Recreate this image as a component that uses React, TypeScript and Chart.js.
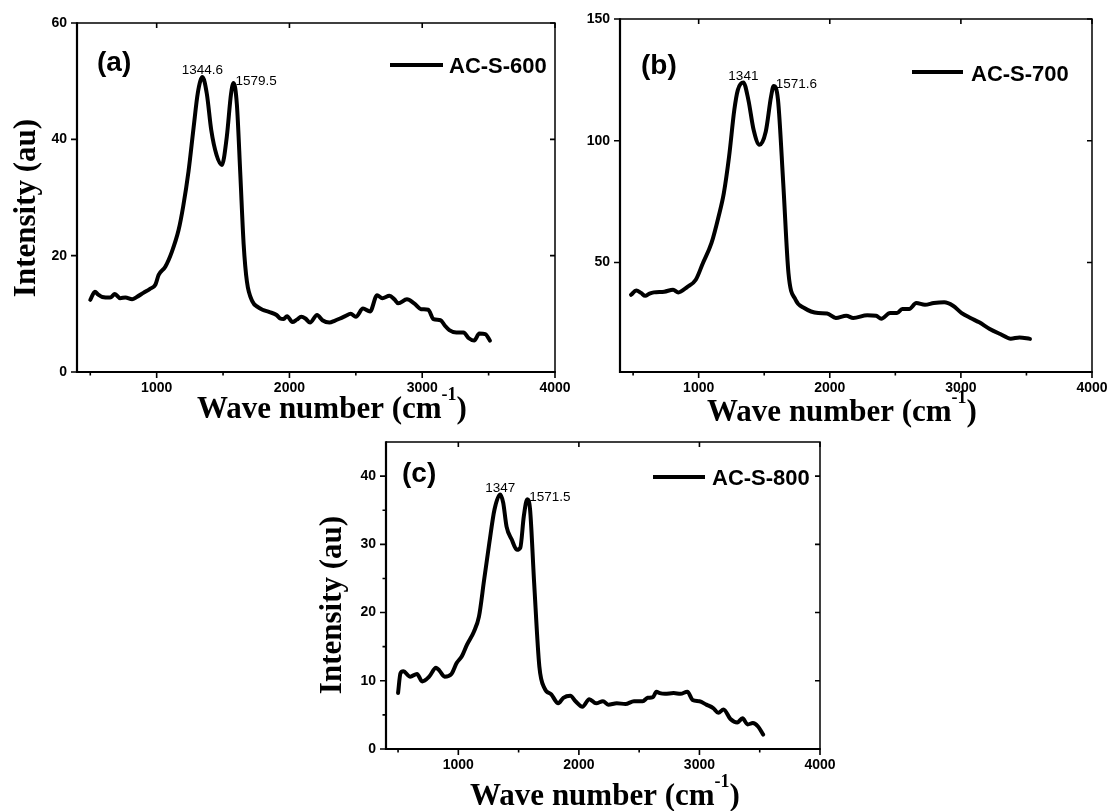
import React, { useEffect, useRef } from 'react';
import { Chart, registerables } from 'chart.js';
Chart.register(...registerables);

// ---------- data ----------
const wavenumbersA = [500, 535, 560, 590, 650, 685, 725, 765, 815, 850, 900, 950, 990, 1015, 1065, 1115, 1165, 1200, 1240, 1278, 1310, 1345, 1378, 1411, 1451, 1491, 1528, 1560, 1579, 1604, 1630, 1655, 1680, 1722, 1760, 1797, 1850, 1903, 1930, 1956, 1982, 2022, 2055, 2089, 2120, 2155, 2208, 2248, 2301, 2340, 2381, 2420, 2461, 2500, 2554, 2607, 2660, 2700, 2753, 2790, 2819, 2885, 2939, 2992, 3045, 3085, 3138, 3170, 3204, 3257, 3311, 3351, 3391, 3430, 3475, 3510];
const intensityA = [12.4, 13.8, 13.3, 12.9, 12.8, 13.4, 12.7, 12.8, 12.5, 12.9, 13.6, 14.3, 15.0, 16.7, 18.1, 20.7, 24.4, 28.5, 34.5, 42.0, 48.0, 50.7, 47.8, 41.6, 37.3, 35.6, 40.4, 47.8, 49.7, 46.0, 34.0, 22.0, 15.5, 12.1, 11.2, 10.7, 10.3, 9.8, 9.2, 9.1, 9.6, 8.6, 9.0, 9.5, 9.2, 8.5, 9.8, 8.9, 8.5, 8.8, 9.2, 9.6, 10.0, 9.5, 10.9, 10.4, 13.2, 12.7, 13.1, 12.5, 11.8, 12.5, 11.8, 10.8, 10.7, 9.1, 8.9, 8.0, 7.2, 6.8, 6.8, 5.8, 5.4, 6.6, 6.5, 5.4];

const wavenumbersB = [484, 524, 560, 592, 625, 658, 738, 805, 845, 912, 978, 1032, 1098, 1152, 1192, 1232, 1272, 1299, 1341, 1379, 1419, 1464, 1512, 1552, 1572, 1605, 1645, 1685, 1739, 1805, 1912, 1979, 2046, 2126, 2179, 2286, 2353, 2393, 2460, 2513, 2553, 2606, 2660, 2726, 2793, 2873, 2940, 3006, 3073, 3140, 3220, 3300, 3380, 3447, 3527];
const intensityB = [36.7, 38.5, 37.5, 36.3, 37.2, 37.7, 38.0, 38.8, 37.7, 39.9, 42.9, 49.7, 58.0, 68.9, 78.5, 93.5, 112.7, 120.9, 123.9, 116.8, 104.5, 98.3, 103.8, 118.1, 122.5, 116.8, 82.6, 45.6, 34.7, 31.3, 29.2, 29.0, 27.2, 28.1, 27.2, 28.3, 28.1, 26.9, 29.2, 29.2, 30.9, 30.9, 33.3, 32.6, 33.3, 33.6, 32.2, 29.2, 27.2, 25.4, 22.7, 20.6, 18.7, 19.2, 18.6];

const wavenumbersC = [500, 520, 543, 601, 657, 700, 758, 815, 843, 886, 943, 986, 1029, 1072, 1129, 1171, 1214, 1257, 1300, 1347, 1372, 1400, 1443, 1486, 1514, 1543, 1572, 1595, 1629, 1672, 1715, 1771, 1829, 1871, 1929, 1972, 2029, 2086, 2143, 2200, 2243, 2314, 2386, 2457, 2529, 2571, 2614, 2643, 2671, 2714, 2786, 2843, 2900, 2943, 3000, 3057, 3114, 3157, 3200, 3257, 3314, 3357, 3400, 3443, 3486, 3529];
const intensityC = [8.2, 11.1, 11.4, 10.6, 11.0, 9.9, 10.6, 11.9, 11.5, 10.6, 11.0, 12.6, 13.6, 15.3, 17.2, 19.4, 24.8, 30.2, 35.1, 37.3, 36.1, 32.6, 30.7, 29.2, 29.5, 34.1, 36.6, 35.1, 24.3, 12.1, 8.9, 8.0, 6.7, 7.5, 7.8, 7.0, 6.2, 7.3, 6.7, 7.0, 6.5, 6.7, 6.6, 7.0, 7.0, 7.5, 7.6, 8.4, 8.2, 8.1, 8.2, 8.1, 8.4, 7.2, 7.0, 6.5, 6.0, 5.3, 5.8, 4.4, 3.9, 4.5, 3.6, 3.8, 3.3, 2.1];

const seriesNames = ['AC-S-600', 'AC-S-700', 'AC-S-800'];
const panelTags = ['(a)', '(b)', '(c)'];
const peakPositionsA = [1345, 1579];
const peakLabelsA = ['1344.6', '1579.5'];
const peakPositionsB = [1341, 1572];
const peakLabelsB = ['1341', '1571.6'];
const peakPositionsC = [1347, 1572];
const peakLabelsC = ['1347', '1571.5'];

const xMin = 400;
const xMax = 4000;
const xTickValues = [1000, 2000, 3000, 4000];
const xMinorTickValues = [500, 1500, 2500, 3500];
const yTicksA = [0, 20, 40, 60];
const yMinorA: number[] = [];
const yTicksB = [50, 100, 150];
const yMinorB: number[] = [];
const yTicksC = [0, 10, 20, 30, 40];
const yMinorC = [5, 15, 25, 35];

const yTitleText = 'Intensity (au)';
const xTitleMain = 'Wave number (cm';
const xTitleSup = '-1';
const xTitleClose = ')';

// ---------- styles ----------
const SANS = '"Liberation Sans", Arial, sans-serif';
const SERIF = '"Liberation Serif", "Times New Roman", serif';
const TITLE_FONT = `bold 31px ${SERIF}`;
const SUP_FONT = `bold 18px ${SERIF}`;
const TAG_FONT = `bold 28px ${SANS}`;
const LEGEND_FONT = `bold 22px ${SANS}`;
const PEAK_FONT = `13.5px ${SANS}`;

type PanelCfg = {
  x: number; y: number; w: number; h: number;
  padTop: number; padRight: number; yW: number; xH: number;
  yMin: number; yMax: number; yTicks: number[]; yMinor: number[];
  xs: number[]; ys: number[]; name: string; tag: string;
  peaks: number[]; peakLabels: string[];
  tagPos: [number, number];
  legendLine: [number, number, number];
  legendText: [number, number];
  yTitle: [number, number] | null;
  xTitle: [number, number];
};

const panels: PanelCfg[] = [
  {
    x: 0, y: 0, w: 600, h: 440, padTop: 23, padRight: 45, yW: 77, xH: 68,
    yMin: 0, yMax: 60, yTicks: yTicksA, yMinor: yMinorA,
    xs: wavenumbersA, ys: intensityA, name: seriesNames[0], tag: panelTags[0],
    peaks: peakPositionsA, peakLabels: peakLabelsA,
    tagPos: [97, 71], legendLine: [390, 443, 65], legendText: [449, 73],
    yTitle: [35, 208], xTitle: [332, 418],
  },
  {
    x: 560, y: 0, w: 548, h: 440, padTop: 19, padRight: 16, yW: 60, xH: 68,
    yMin: 5, yMax: 150, yTicks: yTicksB, yMinor: yMinorB,
    xs: wavenumbersB, ys: intensityB, name: seriesNames[1], tag: panelTags[1],
    peaks: peakPositionsB, peakLabels: peakLabelsB,
    tagPos: [81, 74], legendLine: [352, 403, 72], legendText: [411, 81],
    yTitle: null, xTitle: [282, 421],
  },
  {
    x: 300, y: 420, w: 540, h: 391, padTop: 22, padRight: 20, yW: 86, xH: 62,
    yMin: 0, yMax: 45, yTicks: yTicksC, yMinor: yMinorC,
    xs: wavenumbersC, ys: intensityC, name: seriesNames[2], tag: panelTags[2],
    peaks: peakPositionsC, peakLabels: peakLabelsC,
    tagPos: [102, 62], legendLine: [353, 405, 57], legendText: [412, 65],
    yTitle: [41, 185], xTitle: [305, 385],
  },
];

function makeFramePlugin(cfg: PanelCfg) {
  return {
    id: 'frame',
    afterDraw(chart: any) {
      const ctx: CanvasRenderingContext2D = chart.ctx;
      const { left, right, top, bottom } = chart.chartArea;
      const xs = chart.scales.x;
      const ys = chart.scales.y;
      ctx.save();
      ctx.strokeStyle = '#000';
      ctx.fillStyle = '#000';
      ctx.lineCap = 'butt';
      // thin top/right
      ctx.lineWidth = 1.5;
      ctx.beginPath();
      ctx.moveTo(left, top); ctx.lineTo(right, top); ctx.lineTo(right, bottom);
      ctx.stroke();
      // ticks
      ctx.lineWidth = 1.6;
      ctx.beginPath();
      for (const v of xTickValues) {
        const px = xs.getPixelForValue(v);
        ctx.moveTo(px, bottom); ctx.lineTo(px, bottom + 6);
        ctx.moveTo(px, top); ctx.lineTo(px, top + 5);
      }
      for (const v of xMinorTickValues) {
        const px = xs.getPixelForValue(v);
        ctx.moveTo(px, bottom); ctx.lineTo(px, bottom + 3.5);
      }
      for (const v of cfg.yTicks) {
        const py = ys.getPixelForValue(v);
        ctx.moveTo(left - 6, py); ctx.lineTo(left, py);
        ctx.moveTo(right - 5, py); ctx.lineTo(right, py);
      }
      for (const v of cfg.yMinor) {
        const py = ys.getPixelForValue(v);
        ctx.moveTo(left - 3.5, py); ctx.lineTo(left, py);
      }
      ctx.stroke();
      // thick left/bottom
      ctx.lineWidth = 2.2;
      ctx.beginPath();
      ctx.moveTo(left, top - 0.75); ctx.lineTo(left, bottom); ctx.lineTo(right + 0.75, bottom);
      ctx.stroke();

      // peak labels
      ctx.font = PEAK_FONT;
      ctx.textBaseline = 'alphabetic';
      cfg.peaks.forEach((p, i) => {
        const idx = cfg.xs.indexOf(p);
        const px = xs.getPixelForValue(p);
        const py = ys.getPixelForValue(cfg.ys[idx]);
        if (i === 0) {
          ctx.textAlign = 'center';
          ctx.fillText(cfg.peakLabels[i], px, py - 3);
        } else {
          ctx.textAlign = 'left';
          ctx.fillText(cfg.peakLabels[i], px + 2, py + 2);
        }
      });

      // panel tag
      ctx.font = TAG_FONT;
      ctx.textAlign = 'left';
      ctx.fillText(cfg.tag, cfg.tagPos[0], cfg.tagPos[1]);

      // legend
      ctx.lineWidth = 4;
      ctx.beginPath();
      ctx.moveTo(cfg.legendLine[0], cfg.legendLine[2]);
      ctx.lineTo(cfg.legendLine[1], cfg.legendLine[2]);
      ctx.stroke();
      ctx.font = LEGEND_FONT;
      ctx.fillText(cfg.name, cfg.legendText[0], cfg.legendText[1]);

      // y title
      if (cfg.yTitle) {
        ctx.save();
        ctx.translate(cfg.yTitle[0], cfg.yTitle[1]);
        ctx.rotate(-Math.PI / 2);
        ctx.font = TITLE_FONT;
        ctx.textAlign = 'center';
        ctx.fillText(yTitleText, 0, 0);
        ctx.restore();
      }

      // x title with superscript
      ctx.textAlign = 'left';
      ctx.font = TITLE_FONT;
      const w1 = ctx.measureText(xTitleMain).width;
      const w3 = ctx.measureText(xTitleClose).width;
      ctx.font = SUP_FONT;
      const w2 = ctx.measureText(xTitleSup).width;
      let tx = cfg.xTitle[0] - (w1 + w2 + w3) / 2;
      const base = cfg.xTitle[1];
      ctx.font = TITLE_FONT;
      ctx.fillText(xTitleMain, tx, base);
      tx += w1;
      ctx.font = SUP_FONT;
      ctx.fillText(xTitleSup, tx, base - 18);
      tx += w2;
      ctx.font = TITLE_FONT;
      ctx.fillText(xTitleClose, tx, base);
      ctx.restore();
    },
  };
}

function Panel({ cfg }: { cfg: PanelCfg }) {
  const ref = useRef<HTMLCanvasElement | null>(null);
  useEffect(() => {
    if (!ref.current) return;
    const tickFont = { family: SANS, size: 14, weight: 'bold' as const };
    const chart = new Chart(ref.current, {
      type: 'line',
      data: {
        datasets: [
          {
            label: cfg.name,
            data: cfg.xs.map((x, i) => ({ x, y: cfg.ys[i] })),
            borderColor: '#000',
            backgroundColor: '#000',
            borderWidth: 4,
            pointRadius: 0,
            fill: false,
            cubicInterpolationMode: 'monotone',
            borderJoinStyle: 'round',
            borderCapStyle: 'round',
          },
        ],
      },
      options: {
        responsive: false,
        animation: false,
        devicePixelRatio: 1,
        events: [],
        layout: { padding: { left: 0, top: cfg.padTop, right: cfg.padRight, bottom: 0 } },
        plugins: { legend: { display: false }, tooltip: { enabled: false }, title: { display: false } },
        scales: {
          x: {
            type: 'linear',
            min: xMin,
            max: xMax,
            grid: { display: false, drawTicks: false },
            border: { display: false },
            ticks: { font: tickFont, color: '#000', padding: 8, maxRotation: 0, autoSkip: false, callback: (v: any) => String(v) },
            afterBuildTicks: (s: any) => { s.ticks = xTickValues.map((value) => ({ value })); },
            afterFit: (s: any) => { s.height = cfg.xH; s.paddingLeft = 0; s.paddingRight = 0; },
          },
          y: {
            type: 'linear',
            min: cfg.yMin,
            max: cfg.yMax,
            grid: { display: false, drawTicks: false },
            border: { display: false },
            ticks: { font: tickFont, color: '#000', padding: 10, autoSkip: false, callback: (v: any) => String(v) },
            afterBuildTicks: (s: any) => { s.ticks = cfg.yTicks.map((value) => ({ value })); },
            afterFit: (s: any) => { s.width = cfg.yW; s.paddingTop = 0; s.paddingBottom = 0; },
          },
        },
      } as any,
      plugins: [makeFramePlugin(cfg)],
    });
    return () => chart.destroy();
  }, [cfg]);
  return (
    <canvas
      ref={ref}
      width={cfg.w}
      height={cfg.h}
      style={{ position: 'absolute', left: cfg.x, top: cfg.y, width: cfg.w, height: cfg.h }}
    />
  );
}

export default function App() {
  return (
    <div style={{ position: 'absolute', left: 0, top: 0, width: 1108, height: 811, background: '#fff', overflow: 'hidden' }}>
      {panels.map((p) => (
        <Panel key={p.name} cfg={p} />
      ))}
    </div>
  );
}
